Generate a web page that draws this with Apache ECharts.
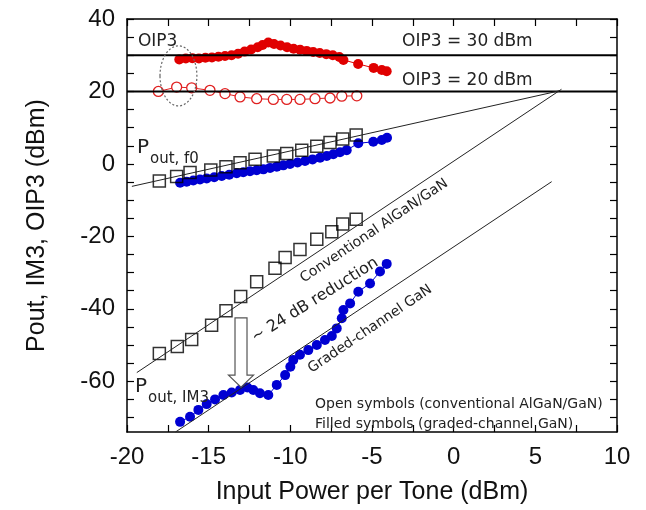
<!DOCTYPE html>
<html><head><meta charset="utf-8">
<script src="https://cdn.jsdelivr.net/npm/echarts@6/dist/echarts.min.js"></script>
<style>html,body{margin:0;padding:0;background:#fff}#c{width:646px;height:510px}</style>
</head><body><div id="c"></div>
<script>
// ---- axis ticks ----
const xTicks = [-20, -15, -10, -5, 0, 5, 10];
const yTicks = [-60, -40, -20, 0, 20, 40];
const yTickMarks = [-70,-65,-60,-55,-50,-45,-40,-35,-30,-25,-20,-15,-10,-5,0,5,10,15,20,25,30,35,40];

// ---- OIP3 (filled = graded-channel GaN, open = conventional AlGaN/GaN) ----
const oip3FilledX = [-16.8,-16.4,-16.0,-15.6,-15.2,-14.8,-14.4,-14.0,-13.6,-13.2,-12.8,-12.4,-12.0,-11.7,-11.35,-11.0,-10.6,-10.2,-9.8,-9.4,-9.0,-8.6,-8.2,-7.8,-7.4,-7.0,-6.75,-5.85,-4.9,-4.4,-4.1];
const oip3FilledY = [28.8,29.1,29.2,29.1,29.3,29.4,29.6,29.8,30.0,30.4,31.0,31.6,32.2,32.8,33.5,33.1,32.7,32.2,31.8,31.5,31.2,30.9,30.6,30.3,30.0,29.5,28.7,27.6,26.5,25.9,25.6];
const oip3OpenX = [-18.08,-16.96,-16.04,-14.92,-14.0,-13.08,-12.06,-11.04,-10.22,-9.41,-8.49,-7.57,-6.85,-5.93];
const oip3OpenY = [20.0,21.2,21.0,20.3,19.4,18.5,18.0,17.8,17.8,17.8,18.0,18.2,18.7,18.8];

// ---- Pout at fundamental ----
const foutOpenX = [-18.02,-16.96,-16.14,-14.87,-13.94,-13.08,-12.16,-11.04,-10.22,-9.3,-8.38,-7.57,-6.79,-5.97];
const foutOpenY = [-4.7,-3.5,-2.4,-1.7,-0.8,0.3,1.3,2.2,2.9,3.8,4.9,5.9,6.9,8.0];
const foutFilledX = [-16.75,-16.35,-15.94,-15.53,-15.12,-14.66,-14.2,-13.74,-13.28,-12.88,-12.47,-12.06,-11.65,-11.24,-10.83,-10.43,-10.02,-9.56,-9.1,-8.64,-8.18,-7.77,-7.37,-6.96,-6.55,-5.84,-4.92,-4.4,-4.08];
const foutFilledY = [-5.2,-4.9,-4.6,-4.3,-4.0,-3.7,-3.35,-3.0,-2.6,-2.3,-2.0,-1.75,-1.5,-1.1,-0.75,-0.4,0.0,0.4,0.8,1.25,1.7,2.2,2.65,3.2,3.8,5.7,6.1,6.6,7.2];

// ---- Pout at IM3 ----
const im3OpenX = [-18.02,-16.92,-16.04,-14.82,-13.94,-13.04,-12.06,-10.94,-10.32,-9.41,-8.38,-7.46,-6.79,-5.97];
const im3OpenY = [-52.3,-50.4,-48.5,-44.5,-40.5,-36.6,-32.5,-28.8,-25.8,-23.6,-20.8,-18.7,-16.6,-15.3];
const im3FilledX = [-16.75,-16.14,-15.63,-15.12,-14.61,-14.1,-13.59,-13.08,-12.63,-12.27,-11.86,-11.35,-10.83,-10.32,-10.0,-9.82,-9.41,-8.9,-8.38,-7.88,-7.46,-7.16,-6.85,-6.75,-6.34,-5.84,-5.12,-4.51,-4.1];
const im3FilledY = [-71.2,-69.8,-67.9,-66.3,-65.0,-63.8,-63.1,-62.4,-61.7,-62.4,-63.3,-63.8,-61.0,-58.3,-56.0,-54.1,-52.7,-51.4,-50.0,-48.6,-47.5,-45.4,-42.6,-40.3,-38.5,-35.3,-33.0,-29.7,-27.6];

// ---- reference lines ----
const oip3Levels = [30, 20];
const fitFundX = [-19.7, 6.5];  const fitFundY = [-6.2, 20.2];
const fitConvX = [-19.4, 6.6];  const fitConvY = [-57.6, 20.6];
const fitGradX = [-17.03, 6.0]; const fitGradY = [-74, -4.9];

const pairs = (xs, ys) => xs.map((x, i) => [x, ys[i]]);
const AX_FONT = 'Liberation Sans';
const TXT_FONT = 'DejaVu Sans';
const RED = '#e00000', BLUE = '#0000d2';

const chart = echarts.init(document.getElementById('c'), null, {renderer: 'canvas'});

function axisX(pos, showLabel) {
  return {
    type: 'value', min: -20, max: 10, interval: 5, position: pos,
    axisLine: {show: true, onZero: false, lineStyle: {color: '#000', width: 1.5}},
    axisTick: {show: true, inside: true, length: 7, lineStyle: {color: '#000', width: 1.2}},
    minorTick: {show: true, splitNumber: 2, length: 7, lineStyle: {color: '#000', width: 1.2}},
    axisLabel: {show: showLabel, fontSize: 24, fontFamily: AX_FONT, color: '#111', margin: 13,
      customValues: xTicks},
    splitLine: {show: false}, minorSplitLine: {show: false},
    name: showLabel ? 'Input Power per Tone (dBm)' : '',
    nameLocation: 'middle', nameGap: 48,
    nameTextStyle: {fontSize: 25, fontFamily: AX_FONT, color: '#111'}
  };
}
function axisY(pos, showLabel) {
  return {
    type: 'value', min: -74, max: 40, position: pos,
    axisLine: {show: true, onZero: false, lineStyle: {color: '#000', width: 1.5}},
    axisTick: {show: true, inside: true, length: 7, customValues: yTickMarks, lineStyle: {color: '#000', width: 1.2}},
    axisLabel: {show: showLabel, customValues: yTicks, fontSize: 24, fontFamily: AX_FONT, color: '#111', margin: 12},
    splitLine: {show: false},
    name: showLabel ? 'Pout, IM3, OIP3 (dBm)' : '',
    nameLocation: 'middle', nameGap: 77, nameRotate: 90,
    nameTextStyle: {fontSize: 25, fontFamily: AX_FONT, color: '#111'}
  };
}

function lineSeries(data, color, width, z) {
  return {type: 'line', data: data, symbol: 'none', lineStyle: {color: color, width: width}, z: z, silent: true};
}

const annotations = {
  type: 'custom', coordinateSystem: 'cartesian2d', data: [[0, 0]], z: 20, silent: true, clip: false,
  renderItem: function (params, api) {
    const c = (x, y) => api.coord([x, y]);
    const F = (s) => s + 'px "' + TXT_FONT + '"';
    const txt = (p, text, size, opt) => Object.assign({
      type: 'text', x: p[0], y: p[1],
      style: {text: text, font: F(size), fill: '#222', align: 'left', verticalAlign: 'middle'}
    }, opt || {});
    const deg = Math.PI / 180;
    const kids = [];
    kids.push(txt(c(-19.33, 33.7), 'OIP3', 17));
    kids.push(txt(c(-3.16, 33.65), 'OIP3 = 30 dBm', 17));
    kids.push(txt(c(-3.16, 23.1), 'OIP3 = 20 dBm', 17));
    // P_out,f0
    const pf = c(-19.39, 1.6);
    kids.push({type: 'text', x: pf[0], y: pf[1], style: {text: 'P', font: F(20), fill: '#222', align: 'left', verticalAlign: 'bottom'}});
    kids.push({type: 'text', x: pf[0] + 13, y: pf[1] + 8.5, style: {text: 'out, f0', font: F(15), fill: '#222', align: 'left', verticalAlign: 'bottom'}});
    // P_out,IM3
    const pi = c(-19.51, -64.4);
    kids.push({type: 'text', x: pi[0], y: pi[1], style: {text: 'P', font: F(20), fill: '#222', align: 'left', verticalAlign: 'bottom'}});
    kids.push({type: 'text', x: pi[0] + 13, y: pi[1] + 8.5, style: {text: 'out, IM3', font: F(15), fill: '#222', align: 'left', verticalAlign: 'bottom'}});
    // rotated labels
    const pc = c(-4.87, -18.5);
    kids.push({type: 'text', x: pc[0], y: pc[1], rotation: 34 * deg, style: {text: 'Conventional AlGaN/GaN', font: F(14), fill: '#222', align: 'center', verticalAlign: 'middle'}});
    const pr = c(-8.49, -37.6);
    kids.push({type: 'text', x: pr[0], y: pr[1], rotation: 32 * deg, style: {text: '~ 24 dB reduction', font: F(16), fill: '#222', align: 'center', verticalAlign: 'middle'}});
    const pg = c(-5.12, -45.6);
    kids.push({type: 'text', x: pg[0], y: pg[1], rotation: 34 * deg, style: {text: 'Graded-channel GaN', font: F(14), fill: '#222', align: 'center', verticalAlign: 'middle'}});
    kids.push(txt(c(-8.49, -66.5), 'Open symbols (conventional AlGaN/GaN)', 14));
    kids.push(txt(c(-8.49, -72.0), 'Filled symbols (graded-channel GaN)', 14));
    // hollow arrow
    const top = c(-13.02, -42.5), neck = c(-13.02, -58.3), tip = c(-13.02, -61.6);
    const hw = 6, hh = 12.5;
    kids.push({type: 'polygon', shape: {points: [
      [top[0] - hw, top[1]], [top[0] + hw, top[1]], [neck[0] + hw, neck[1]], [neck[0] + hh, neck[1]],
      [tip[0], tip[1]], [neck[0] - hh, neck[1]], [neck[0] - hw, neck[1]]
    ]}, style: {fill: '#fff', stroke: '#555', lineWidth: 1.2}});
    // dotted ellipse
    const ec = c(-16.85, 24.3);
    const es = api.size([1.13, 8.3]);
    kids.push({type: 'ellipse', shape: {cx: ec[0], cy: ec[1], rx: es[0], ry: es[1]},
      style: {fill: 'none', stroke: '#666', lineWidth: 1.2, lineDash: [2, 2]}});
    return {type: 'group', children: kids};
  }
};

const option = {
  backgroundColor: '#fff',
  animation: false,
  grid: {left: 127, right: 29, top: 19, bottom: 78, containLabel: false},
  xAxis: [axisX('bottom', true), axisX('top', false)],
  yAxis: [axisY('left', true), axisY('right', false)],
  series: [
    {type: 'line', data: pairs(oip3OpenX, oip3OpenY), symbol: 'circle', symbolSize: 10,
      itemStyle: {color: '#fff', borderColor: '#e02020', borderWidth: 1.3},
      lineStyle: {color: '#e02020', width: 1}, z: 3, silent: true},
    {type: 'line', data: pairs(oip3FilledX, oip3FilledY), symbol: 'circle', symbolSize: 10,
      itemStyle: {color: RED}, lineStyle: {color: RED, width: 1}, z: 3, silent: true},
    {type: 'line', data: pairs(foutFilledX, foutFilledY), symbol: 'circle', symbolSize: 10,
      itemStyle: {color: BLUE}, lineStyle: {color: BLUE, width: 1}, z: 3, silent: true},
    {type: 'line', data: pairs(im3FilledX, im3FilledY), symbol: 'circle', symbolSize: 10,
      itemStyle: {color: BLUE}, lineStyle: {color: BLUE, width: 1}, z: 3, silent: true},
    {type: 'scatter', data: pairs(foutOpenX, foutOpenY), symbol: 'rect', symbolSize: 12,
      itemStyle: {color: 'rgba(255,255,255,0)', borderColor: '#000', borderWidth: 1.5}, z: 4, silent: true},
    {type: 'scatter', data: pairs(im3OpenX, im3OpenY), symbol: 'rect', symbolSize: 12,
      itemStyle: {color: 'rgba(255,255,255,0)', borderColor: '#000', borderWidth: 1.5}, z: 4, silent: true},
    lineSeries([[-20, oip3Levels[0]], [10, oip3Levels[0]]], '#000', 2, 6),
    lineSeries([[-20, oip3Levels[1]], [10, oip3Levels[1]]], '#000', 2, 6),
    lineSeries(pairs(fitFundX, fitFundY), '#222', 1, 6),
    lineSeries(pairs(fitConvX, fitConvY), '#222', 1, 6),
    lineSeries(pairs(fitGradX, fitGradY), '#222', 1, 6),
    annotations
  ]
};
chart.setOption(option);
</script>
</body></html>
